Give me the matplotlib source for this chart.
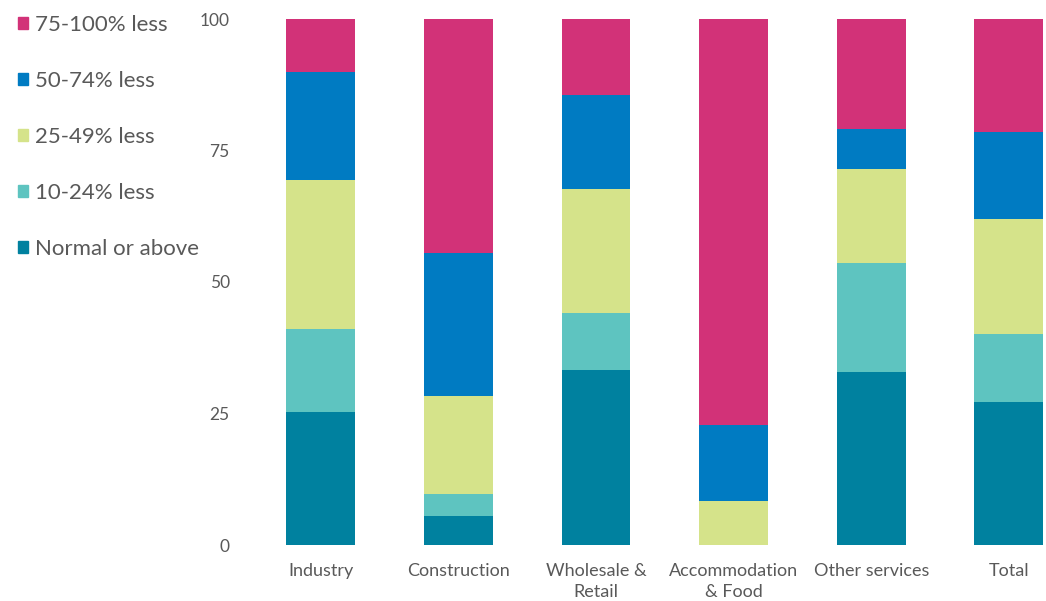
import matplotlib.pyplot as plt
from matplotlib.patches import Patch
import numpy as np

plt.rcParams['font.family'] = ['Lato', 'DejaVu Sans']

sectors = ['Industry', 'Construction', 'Wholesale &\nRetail',
           'Accommodation\n& Food', 'Other services', 'Total']

# share of firms by turnover change, bottom to top
normal = [25.3, 5.6, 33.2, 0.0, 32.9, 27.2]
less_10_24 = [15.7, 4.1, 11.0, 0.0, 20.8, 12.9]
less_25_49 = [28.4, 18.7, 23.4, 8.4, 17.7, 21.8]
less_50_74 = [20.5, 27.2, 17.9, 14.5, 7.7, 16.7]
less_75_100 = [10.1, 44.4, 14.5, 77.1, 20.9, 21.4]

series = [
    ('Normal or above', normal, '#00819F'),
    ('10-24% less', less_10_24, '#5EC4C0'),
    ('25-49% less', less_25_49, '#D5E38A'),
    ('50-74% less', less_50_74, '#007BC2'),
    ('75-100% less', less_75_100, '#D23278'),
]

grey = '#595959'

fig = plt.figure(figsize=(10.46, 6.01), dpi=100)
ax = fig.add_axes([252 / 1046, 56 / 601, 794 / 1046, 526 / 601])

x = np.arange(len(sectors))
bottom = np.zeros(len(sectors))
handles = []
for label, vals, color in series:
    ax.bar(x, vals, width=0.5, bottom=bottom, color=color)
    bottom += np.array(vals)
    handles.append(Patch(color=color, label=label))

ax.set_xlim(-0.5, 5.27)
ax.set_ylim(0, 100)
ax.set_yticks([0, 25, 50, 75, 100])
ax.set_xticks(x)
ax.set_xticklabels(sectors, fontsize=13, color=grey, linespacing=1.4)
ax.tick_params(axis='both', length=0, colors=grey)
ax.tick_params(axis='y', pad=16, labelsize=12.5)
ax.tick_params(axis='x', pad=13)
for s in ax.spines.values():
    s.set_visible(False)

fig.legend(handles=handles[::-1], loc='upper left',
           bbox_to_anchor=(0.009, 0.99), frameon=False,
           fontsize=16, labelcolor=grey, handlelength=0.45,
           handleheight=0.45, handletextpad=0.3, labelspacing=1.62,
           borderaxespad=0)

fig.savefig('out.png', dpi=100)
